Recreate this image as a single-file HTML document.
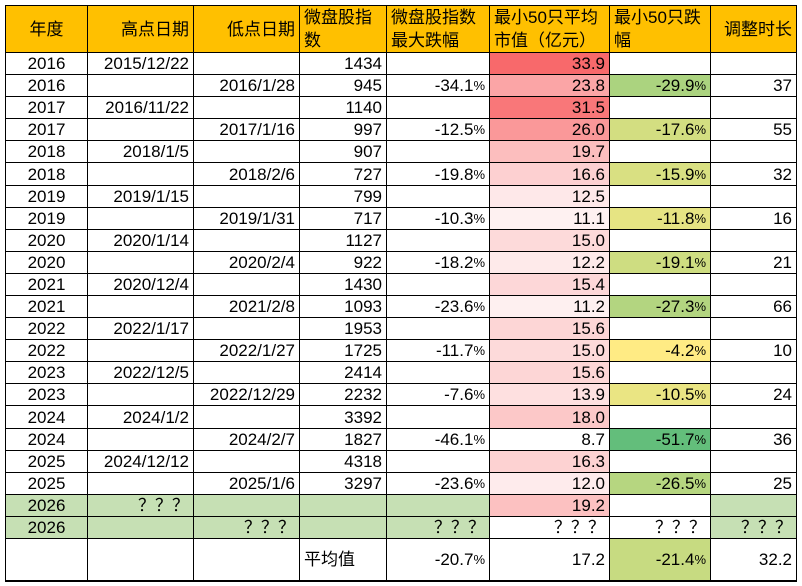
<!DOCTYPE html>
<html><head><meta charset="utf-8">
<style>
html,body{margin:0;padding:0;background:#fff;}
body{width:802px;height:586px;position:relative;overflow:hidden;font-family:"Liberation Sans Narrow","Liberation Sans","Noto Sans CJK SC",sans-serif;font-size:17px;color:#000;}
.c{position:absolute;box-sizing:border-box;border-right:1px solid #000;border-bottom:1px solid #000;display:flex;align-items:center;white-space:nowrap;overflow:hidden;padding:0 4px;line-height:21px;}
.r{justify-content:flex-end;}
.m{justify-content:center;}
.l{justify-content:flex-start;}
.h{background:#FFC000;font-family:"Liberation Sans","Noto Sans CJK SC",sans-serif;font-size:17px;white-space:normal;line-height:23px;}
.pc{font-size:13px;}
</style></head>
<body>
<div id="t"></div>
<script>
const years=['2016','2016','2017','2017','2018','2018','2019','2019','2020','2020','2021','2021','2022','2022','2023','2023','2024','2024','2025','2025','2026','2026'];
const highDates=['2015/12/22','','2016/11/22','','2018/1/5','','2019/1/15','','2020/1/14','','2020/12/4','','2022/1/17','','2022/12/5','','2024/1/2','','2024/12/12','','？？？',''];
const lowDates=['','2016/1/28','','2017/1/16','','2018/2/6','','2019/1/31','','2020/2/4','','2021/2/8','','2022/1/27','','2022/12/29','','2024/2/7','','2025/1/6','','？？？'];
const indexVals=['1434','945','1140','997','907','727','799','717','1127','922','1430','1093','1953','1725','2414','2232','3392','1827','4318','3297','',''];
const idxDrop=[null,-34.1,null,-12.5,null,-19.8,null,-10.3,null,-18.2,null,-23.6,null,-11.7,null,-7.6,null,-46.1,null,-23.6,null,'？？？'];
const mcap=[33.9,23.8,31.5,26.0,19.7,16.6,12.5,11.1,15.0,12.2,15.4,11.2,15.6,15.0,15.6,13.9,18.0,8.7,16.3,12.0,19.2,'？？？'];
const smallDrop=[null,-29.9,null,-17.6,null,-15.9,null,-11.8,null,-19.1,null,-27.3,null,-4.2,null,-10.5,null,-51.7,null,-26.5,null,'？？？'];
const duration=['','37','','55','','32','','16','','21','','66','','10','','24','','36','','25','','？？？'];
const avgVals={idx:-20.7,mcap:17.2,small:-21.4,dur:'32.2'};
const headers=['年度','高点日期','低点日期','微盘股指数','微盘股指数最大跌幅','最小50只平均市值（亿元）','最小50只跌幅','调整时长'];

const X=[5,88,194,300,387,490,610,711,797];
const Y0=53,RH=22.09,TOP=5;
const root=document.getElementById('t');
function mix(a,b,t){return 'rgb('+a.map((v,i)=>Math.round(v+(b[i]-v)*t)).join(',')+')';}
const nums=mcap.filter(v=>typeof v==='number');
const mMin=Math.min(...nums),mMax=Math.max(...nums);
function redC(v){if(typeof v!=='number')return '#fff';return mix([255,255,255],[248,105,107],(v-mMin)/(mMax-mMin));}
const sn=smallDrop.filter(v=>typeof v==='number').concat([avgVals.small]);
const sMin=Math.min(...sn),sMax=Math.max(...sn);
function grnC(v){return mix([99,190,123],[255,235,132],(v-sMin)/(sMax-sMin));}
function pct(v){return typeof v==='number'?v.toFixed(1)+'<span class="pc">%</span>':v;}
function cell(col,y,h,html,cls,bg,name){
  const d=document.createElement('div');
  d.className='c '+cls;
  d.style.left=X[col]+'px';d.style.top=y+'px';
  d.style.width=(X[col+1]-X[col])+'px';d.style.height=h+'px';
  if(col==0)d.style.borderLeft='1px solid #000';
  if(bg)d.style.background=bg;
  d.innerHTML=html;
  
  
  root.appendChild(d);return d;
}
const hal=['m','r','r','l','r','m','r','r'];
headers.forEach((h,i)=>{const d=cell(i,TOP,Y0-TOP,h,'h '+hal[i],null,'header-cell');d.style.borderTop='1px solid #000';});
const G='#C6E0B4';
years.forEach((yr,i)=>{
  const y=Math.round(Y0+i*RH),h=Math.round(Y0+(i+1)*RH)-y;
  const g1=i===20,g2=i===21;
  const gr=(c)=> (g1&&[0,1,2,3,4,7].includes(c))||(g2&&[0,1,2,3,4,7].includes(c))?G:null;
  cell(0,y,h,yr,'m',gr(0),'year-cell');
  cell(1,y,h,highDates[i],'r',gr(1),'high-date-cell');
  cell(2,y,h,lowDates[i],'r',gr(2),'low-date-cell');
  cell(3,y,h,indexVals[i],'r',gr(3),'index-cell');
  cell(4,y,h,idxDrop[i]==null?'':pct(idxDrop[i]),'r',gr(4),'index-drop-cell');
  cell(5,y,h,typeof mcap[i]==='number'?mcap[i].toFixed(1):mcap[i],'r',redC(mcap[i]),'mcap-cell');
  cell(6,y,h,smallDrop[i]==null?'':pct(smallDrop[i]),'r',typeof smallDrop[i]==='number'?grnC(smallDrop[i]):null,'small-drop-cell');
  cell(7,y,h,duration[i],'r',gr(7),'duration-cell');
});
const ay=539,ah=43;
for(let c=0;c<8;c++){
  let html='',cls='r',bg=null;
  if(c==3){html='平均值';cls='l';}
  if(c==4)html=pct(avgVals.idx);
  if(c==5)html=avgVals.mcap.toFixed(1);
  if(c==6){html=pct(avgVals.small);bg=grnC(avgVals.small);}
  if(c==7)html=avgVals.dur;
  const d=cell(c,ay,ah,html,cls,bg,'average-cell');
  d.style.borderBottom='2px solid #000';
}
</script>
</body></html>
